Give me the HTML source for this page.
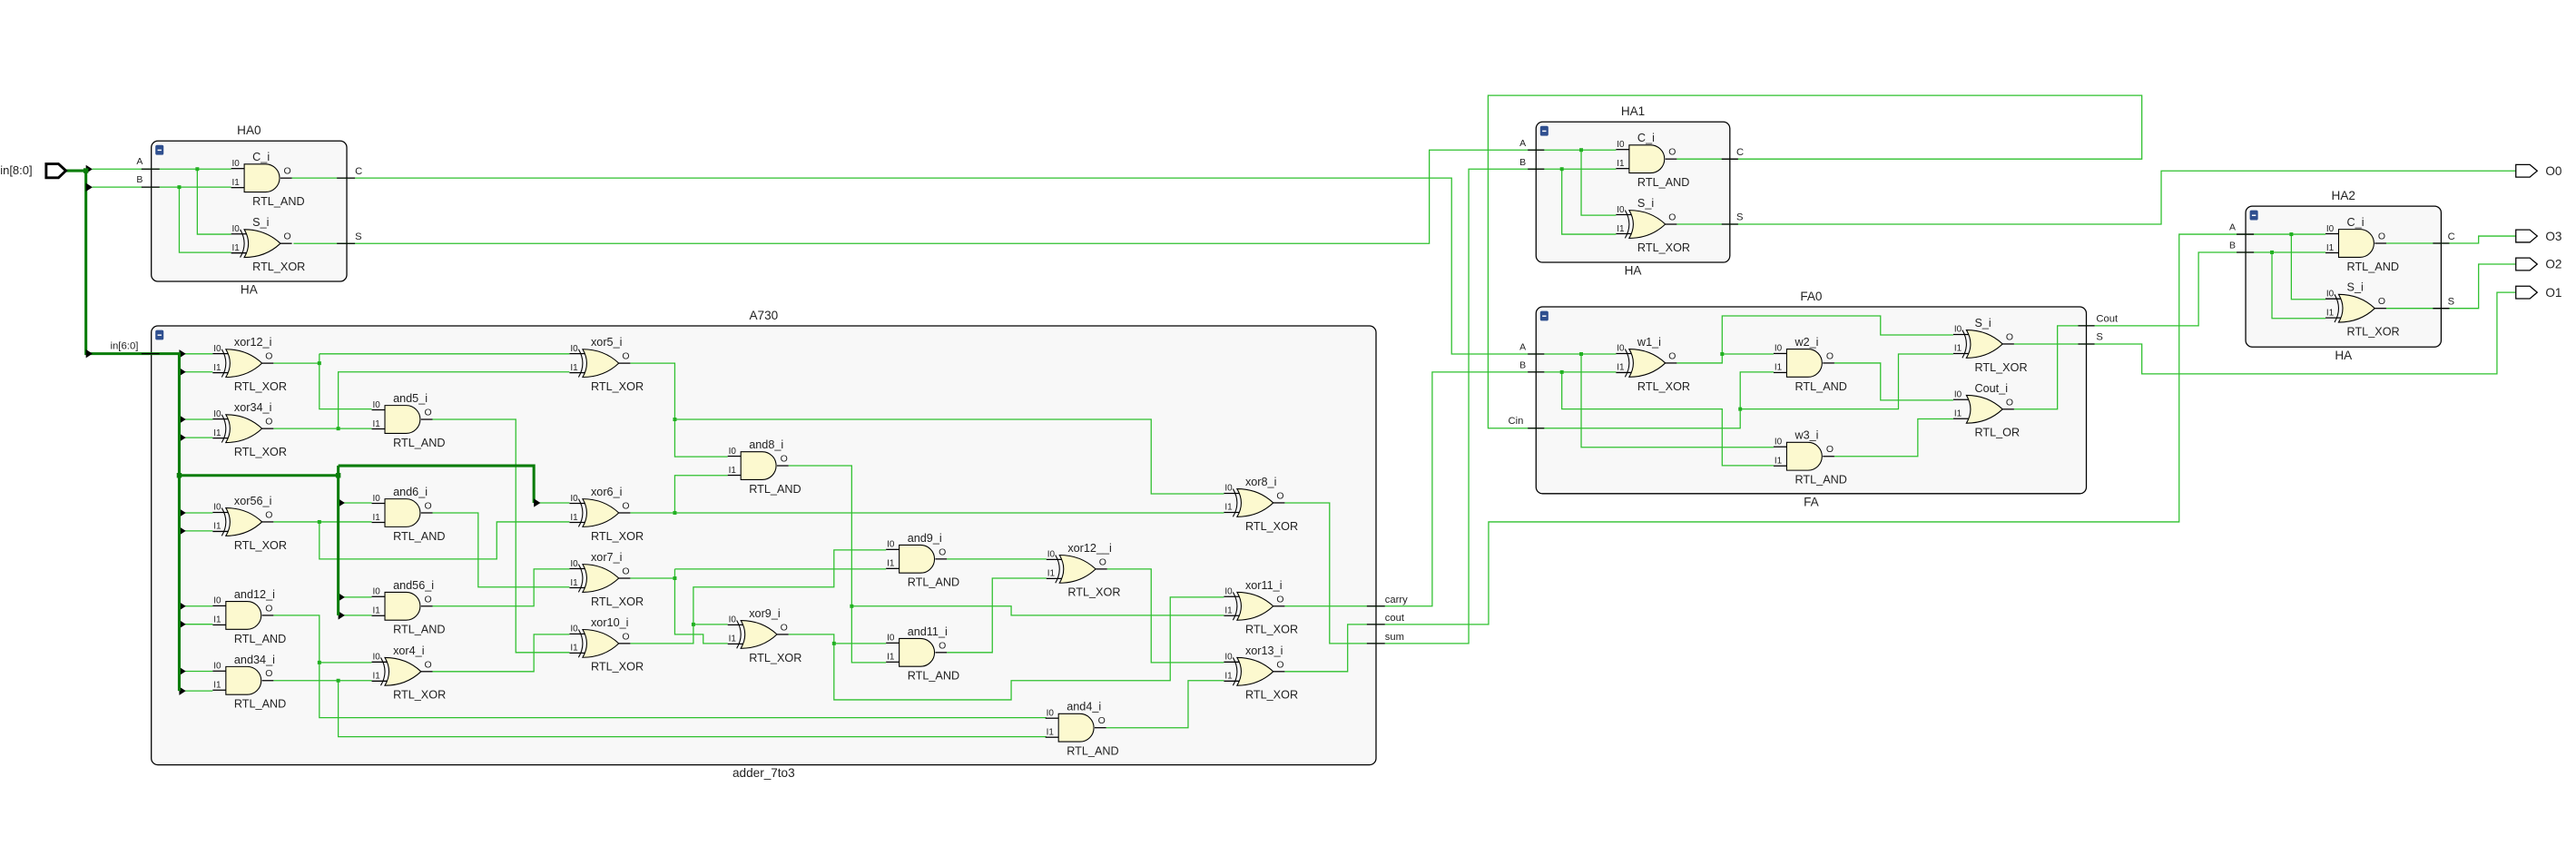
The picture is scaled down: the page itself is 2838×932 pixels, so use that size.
<!DOCTYPE html>
<html><head><meta charset="utf-8"><style>
html,body{margin:0;padding:0;background:#fff;width:2838px;height:932px;overflow:hidden}
svg{display:block}
text{font-family:"Liberation Sans",sans-serif;fill:#222}
</style></head><body>
<svg id="s" width="2838" height="932" viewBox="0 0 1568 515" xmlns="http://www.w3.org/2000/svg"></svg>
<script>
var o=[];
function P(pts,c,w){o.push('<polyline points="'+pts.join(' ')+'" fill="none" stroke="'+(c||'#2ec02e')+'" stroke-width="'+(w||0.7)+'"/>');}
function T(x,y,t,sz,anc){o.push('<text x="'+x+'" y="'+y+'" font-size="'+(sz||7)+'"'+(anc?' text-anchor="'+anc+'"':'')+'>'+t+'</text>');}
function D(x,y){o.push('<rect x="'+(x-1.1)+'" y="'+(y-1.1)+'" width="2.2" height="2.2" fill="#22b022"/>');}
function Box(x1,y1,x2,y2,title,sub){
 o.push('<rect x="'+x1+'" y="'+y1+'" width="'+(x2-x1)+'" height="'+(y2-y1)+'" rx="4" fill="#f8f8f8" stroke="#000" stroke-width="0.7"/>');
 o.push('<rect x="'+(x1+2.5)+'" y="'+(y1+2.5)+'" width="5" height="6" rx="1" fill="#2f4f8f"/><rect x="'+(x1+3.8)+'" y="'+(y1+5.2)+'" width="2.4" height="0.8" fill="#fff"/>');
 var cx=(x1+x2)/2;T(cx,y1-4,title,7.5,'middle');T(cx,y2+7.5,sub,7.5,'middle');}
function Stub(x1,x2,y){o.push('<line x1="'+x1+'" y1="'+y+'" x2="'+x2+'" y2="'+y+'" stroke="#000" stroke-width="0.7"/>');}
function G(t,x,yc,name){
 var yt=yc-8.5,yb=yc+8.5,d;
 var y0=yc-5.8,y1=yc+5.8;
 Stub(x-8,x+(t=='A'?0:2),y0);Stub(x-8,x+(t=='A'?0:2),y1);Stub(x+22,x+29,yc);
 if(t=='A'){d='M'+x+','+yt+' H'+(x+13)+' A8.5,8.5 0 0 1 '+(x+13)+','+yb+' H'+x+' Z';}
 else{d='M'+x+','+yt+' Q'+(x+13)+','+yt+' '+(x+22)+','+yc+' Q'+(x+13)+','+yb+' '+x+','+yb+' Q'+(x+5)+','+yc+' '+x+','+yt+' Z';}
 o.push('<path d="'+d+'" fill="#fcf9cf" stroke="#000" stroke-width="0.6"/>');
 if(t=='X')o.push('<path d="M'+(x-2.5)+','+yt+' Q'+(x+2.5)+','+yc+' '+(x-2.5)+','+yb+'" fill="none" stroke="#000" stroke-width="0.6"/>');
 T(x-7.5,y0-1.5,'I0',5.5);T(x-7.5,y1-1.5,'I1',5.5);T(x+24,yc-2.5,'O',5.8);
 T(x+5,yt-2,name,7);T(x+5,yb+8,t=='A'?'RTL_AND':(t=='X'?'RTL_XOR':'RTL_OR'),7);}
function Arr(x,y){o.push('<path d="M'+x+','+(y-2.6)+' L'+(x+4)+','+y+' L'+x+','+(y+2.6)+' Z" fill="#000"/>');}
function OPort(x,y,l){o.push('<path d="M'+x+','+(y-3.8)+' H'+(x+8.5)+' L'+(x+13)+','+y+' L'+(x+8.5)+','+(y+3.8)+' H'+x+' Z" fill="#fff" stroke="#000" stroke-width="0.7"/>');T(x+18,y+2.6,l,7.5);}

// boxes
Box(92,85.8,211,171.3,'HA0','HA');
Box(92,198.4,837.6,465.6,'A730','adder_7to3');
Box(935,74.2,1053,159.7,'HA1','HA');
Box(935,186.8,1270,300.5,'FA0','FA');
Box(1367,125.5,1486,211.2,'HA2','HA');

// wires
var W=[
[56,102.9,140.6,102.9],[56,113.9,140.6,113.9],[120,102.9,120,142.6,140.6,142.6],[109,113.9,109,153.7,140.6,153.7],
[177.6,108.4,883.6,108.4,883.6,215.5,983.7,215.5],[178.6,148.2,870,148.2,870,91.3,983.7,91.3],
[962.5,91.3,962.5,131,983.7,131],[843,391.7,894,391.7,894,102.9,983.7,102.9],[950.7,102.9,950.7,142.6,983.7,142.6],
[1020.7,96.8,1303.8,96.8,1303.8,58.1,905.8,58.1,905.8,260.7,1059.3,260.7,1059.3,226.5,1079.6,226.5],
[1020.7,136.5,1315.6,136.5,1315.6,104,1531.5,104],
[843,369,871.8,369,871.8,226.5,983.7,226.5],
[962.5,215.5,962.5,272.3,1079.6,272.3],[950.7,226.5,950.7,249,1048.3,249,1048.3,283.4,1079.6,283.4],
[1020.7,221,1048.3,221,1048.3,215.5,1079.6,215.5],[1048.3,215.5,1048.3,192.3,1144.7,192.3,1144.7,203.9,1189,203.9],
[1059.3,249,1155.6,249,1155.6,215.5,1189,215.5],[1116.6,221,1144.7,221,1144.7,243.6,1189,243.6],
[1116.6,277.8,1167.4,277.8,1167.4,255,1189,255],
[1226,249.1,1252.4,249.1,1252.4,198.3,1338.3,198.3,1338.3,153.6,1415.6,153.6],
[1226,209.4,1303.8,209.4,1303.8,227.6,1520,227.6,1520,178,1531.5,178],
[843,380.1,906.1,380.1,906.1,317.7,1326.5,317.7,1326.5,142.6,1415.6,142.6],
[1394.8,142.6,1394.8,182.2,1415.6,182.2],[1383,153.6,1383,193.8,1415.6,193.8],
[1452.6,148.1,1508.8,148.1,1508.8,143.7,1531.5,143.7],[1452.6,187.7,1508.8,187.7,1508.8,160.8,1531.5,160.8],
// A730
[166.4,221.1,194.3,221.1],[194.3,215.4,194.3,249,226.2,249],[194.3,215.4,346.6,215.4],
[166.4,260.9,226.2,260.9],[205.8,260.9,205.8,226.4,346.6,226.4],
[166.4,317.7,226.2,317.7],[194.3,317.7,194.3,340.3,302.3,340.3,302.3,317.7,346.6,317.7],
[166.4,374.6,194.3,374.6,194.3,436.9,636.9,436.9],[194.3,403.3,226.2,403.3],
[166.4,414.3,226.2,414.3],[205.8,414.3,205.8,448.5,636.9,448.5],
[263.2,255.3,313.9,255.3,313.9,397.2,346.6,397.2],[263.2,312.2,291,312.2,291,357.4,346.6,357.4],
[263.2,369,324.9,369,324.9,346.4,346.6,346.4],[263.2,408.8,324.9,408.8,324.9,386.2,346.6,386.2],
[383.6,221.1,410.7,221.1,410.7,278,442.9,278],[410.7,255.3,700.7,255.3,700.7,300.6,745,300.6],
[383.6,312.2,745,312.2],[410.7,312.2,410.7,289.4,442.9,289.4],
[383.6,352,410.7,352],[410.7,346.4,410.7,386.2,428,386.2,428,391.7,442.9,391.7],[410.7,346.4,539.3,346.4],
[383.6,391.7,422,391.7,422,357.4,507.6,357.4,507.6,334.8,539.3,334.8],[422,380.1,442.9,380.1],
[479.9,283.5,518.4,283.5,518.4,403.3,539.3,403.3],[518.4,369,615.5,369,615.5,374.6,745,374.6],
[479.9,386.2,507.6,386.2,507.6,426,615.5,426,615.5,414.3,712.3,414.3,712.3,363.5,745,363.5],[507.6,391.7,539.3,391.7],
[576.3,340.3,636.9,340.3],[576.3,397.2,604,397.2,604,352,636.9,352],
[673.9,346.4,700.7,346.4,700.7,403.3,745,403.3],[673.3,443,723.2,443,723.2,414.3,745,414.3],
[782,306.1,809.3,306.1,809.3,391.7,843,391.7],[782,369,843,369],[782,408.8,820.3,408.8,820.3,380.1,843,380.1]
];
W.forEach(function(w){P(w);});
[215.4,226.4,255.3,266.4,312.2,323.2,369,380,408.6,420.6].forEach(function(y){P([109,y,129.4,y]);Arr(109,y);});
[306.1,363.5,374.6].forEach(function(y){P([205.8,y,226.2,y]);Arr(205.8,y);});
P([324.9,306.1,346.6,306.1]);
// bus
var B='#0a7d0a';
P([40,103.9,52.2,103.9,52.2,215.3,109,215.3,109,420.6],B,1.7);
P([109,289.4,205.8,289.4],B,1.7);P([205.8,283.5,205.8,374.6],B,1.7);P([205.8,283.5,324.9,283.5,324.9,306.1],B,1.7);
Arr(52.2,103);Arr(52.2,114);Arr(52.2,215.3);Arr(324.9,306.1);
o.push('<path d="M28,99.8 H35.5 L40,103.9 L35.5,108.2 H28 Z" fill="#fff" stroke="#000" stroke-width="1.6"/>');
T(0,106,'in[8:0]',7.2);T(67,212.5,'in[6:0]',6.3);
// dots
[[120,102.9],[109,113.9],[962.5,91.3],[950.7,102.9],[962.5,215.5],[950.7,226.5],[1048.3,215.5],[1059.3,249],[1394.8,142.6],[1383,153.6],
[194.3,221.1],[205.8,260.9],[194.3,317.7],[194.3,403.3],[205.8,414.3],[410.7,255.3],[410.7,312.2],[410.7,352],[422,380.1],[518.4,369],[507.6,391.7]].forEach(function(d){D(d[0],d[1]);});
[[109,289.4],[205.8,289.4],[52.2,103.9]].forEach(function(d){o.push('<rect x="'+(d[0]-1.5)+'" y="'+(d[1]-1.5)+'" width="3" height="3" fill="'+B+'"/>');});
// port stubs and labels
Stub(86,97,102.9);Stub(86,97,113.9);T(83,100,'A',5.8);T(83,111,'B',5.8);
Stub(205,216,108.4);Stub(205,216,148.2);T(216,106,'C',6.2);T(216,146,'S',6.2);
Stub(86,97,215.3);
Stub(832,843,369);Stub(832,843,380.1);Stub(832,843,391.7);T(843,367,'carry',6.2);T(843,378,'cout',6.2);T(843,389.5,'sum',6.2);
Stub(930,940,91.3);Stub(930,940,102.9);T(925,89,'A',5.8);T(925,100.5,'B',5.8);
Stub(1048,1058,96.8);Stub(1048,1058,136.5);T(1057,94.5,'C',6.2);T(1057,134,'S',6.2);
Stub(930,940,215.5);Stub(930,940,226.5);Stub(930,940,260.7);T(925,213,'A',5.8);T(925,224,'B',5.8);T(918,258,'Cin',6.2);
Stub(1265,1275,198.3);Stub(1265,1275,209.4);T(1276,196,'Cout',6.2);T(1276,207,'S',6.2);
Stub(1361.5,1372,142.6);Stub(1361.5,1372,153.6);T(1357,140,'A',5.8);T(1357,151,'B',5.8);
Stub(1481,1491,148.1);Stub(1481,1491,187.7);T(1490,146,'C',6.2);T(1490,185.5,'S',6.2);
OPort(1531.5,104,'O0');OPort(1531.5,143.7,'O3');OPort(1531.5,160.8,'O2');OPort(1531.5,178,'O1');
// gates
[['A',148.6,108.4,'C_i'],['X',148.6,148.2,'S_i'],
['X',137.4,221.1,'xor12_i'],['X',137.4,260.9,'xor34_i'],['X',137.4,317.7,'xor56_i'],['A',137.4,374.6,'and12_i'],['A',137.4,414.3,'and34_i'],
['A',234.2,255.3,'and5_i'],['A',234.2,312.2,'and6_i'],['A',234.2,369,'and56_i'],['X',234.2,408.8,'xor4_i'],
['X',354.6,221.1,'xor5_i'],['X',354.6,312.2,'xor6_i'],['X',354.6,352,'xor7_i'],['X',354.6,391.7,'xor10_i'],
['A',450.9,283.5,'and8_i'],['X',450.9,386.2,'xor9_i'],
['A',547.3,340.3,'and9_i'],['A',547.3,397.2,'and11_i'],
['X',644.9,346.4,'xor12__i'],['A',644.3,443,'and4_i'],
['X',753,306.1,'xor8_i'],['X',753,369,'xor11_i'],['X',753,408.8,'xor13_i'],
['A',991.7,96.8,'C_i'],['X',991.7,136.5,'S_i'],
['X',991.7,221,'w1_i'],['A',1087.6,221,'w2_i'],['A',1087.6,277.8,'w3_i'],['X',1197,209.4,'S_i'],['O',1197,249.1,'Cout_i'],
['A',1423.6,148.1,'C_i'],['X',1423.6,187.7,'S_i']
].forEach(function(g){G(g[0],g[1],g[2],g[3]);});
document.getElementById('s').innerHTML=o.join('');
</script>
</body></html>
